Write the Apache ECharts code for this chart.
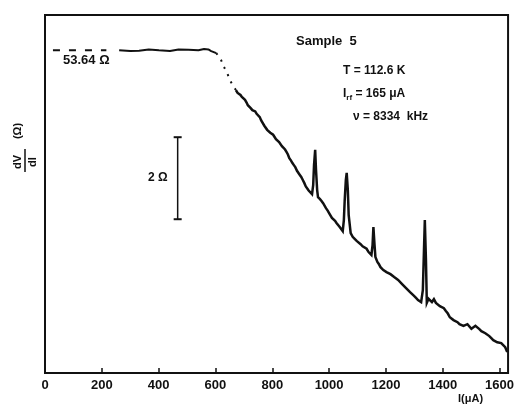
<!DOCTYPE html>
<html>
<head>
<meta charset="utf-8">
<script src="https://cdn.jsdelivr.net/npm/echarts@6/dist/echarts.min.js"></script>
<style>html,body{margin:0;padding:0;background:#fff}#c{width:517px;height:405px}</style>
</head>
<body>
<div id="c"></div>
<script>
// x tick labels (µA)
const xTicks = [0, 200, 400, 600, 800, 1000, 1200, 1400, 1600];
// dashed extrapolated plateau (53.64 Ω)
const plateauI = [28, 216];
const plateauV = [53.64, 53.64];
// measured plateau (solid)
const flatI = [261,300,331,365,401,440,470,505,540,560,575,585,603];
const flatV = [53.64,53.62,53.63,53.66,53.64,53.62,53.66,53.65,53.64,53.67,53.66,53.62,53.57];
// dotted start of the descent
const dotI = [603, 610, 620, 630, 641, 651, 662, 672];
const dotV = [53.57, 53.55, 53.40, 53.23, 53.09, 52.91, 52.77, 52.67];
// measured dV/dI trace
const currentI = [672,678,683,688,693,699,704,710,714,719,724,730,735,740,745,751,756,761,766,772,777,782,787,793,798,803,808,813,818,824,829,834,839,845,850,855,860,866,871,876,881,887,892,897,902,908,913,918,923,928,933,940,944,947,951,954,958,961,968,974,979,985,989,995,1000,1005,1010,1016,1021,1026,1031,1036,1041,1048,1052,1055,1059,1062,1066,1069,1076,1083,1090,1097,1104,1111,1118,1125,1132,1139,1144,1149,1153,1156,1160,1163,1170,1175,1181,1186,1191,1197,1202,1209,1216,1222,1229,1236,1243,1250,1257,1264,1271,1278,1285,1292,1299,1306,1313,1318,1324,1330,1334,1337,1339,1341,1344,1350,1355,1362,1369,1376,1383,1390,1397,1404,1411,1418,1425,1431,1438,1445,1452,1459,1466,1473,1480,1487,1494,1501,1508,1515,1522,1529,1536,1543,1550,1557,1564,1571,1578,1585,1592,1599,1606,1613,1620,1627];
const dVdI = [52.67,52.60,52.57,52.55,52.50,52.46,52.43,52.36,52.30,52.28,52.23,52.18,52.16,52.15,52.09,52.06,52.01,51.93,51.89,51.80,51.77,51.70,51.67,51.63,51.60,51.58,51.55,51.47,51.45,51.40,51.38,51.30,51.28,51.22,51.16,51.10,51.01,50.95,50.89,50.84,50.79,50.70,50.67,50.60,50.55,50.47,50.40,50.32,50.28,50.22,50.18,50.13,50.35,50.84,51.21,50.72,50.23,50.06,50.01,49.96,49.91,49.88,49.79,49.73,49.67,49.70,49.55,49.52,49.48,49.43,49.40,49.34,49.30,49.23,49.50,49.99,50.48,50.65,50.23,49.62,49.18,49.09,49.04,48.99,48.97,48.91,48.86,48.82,48.80,48.72,48.70,48.65,48.89,49.33,48.89,48.60,48.48,48.43,48.35,48.33,48.28,48.27,48.23,48.26,48.18,48.16,48.11,48.12,48.04,48.00,47.94,47.93,47.84,47.80,47.74,47.72,47.65,47.60,47.55,47.52,47.50,47.79,48.77,49.50,49.00,48.52,47.48,47.58,47.55,47.50,47.57,47.48,47.52,47.40,47.43,47.35,47.28,47.22,47.13,47.10,47.06,47.07,47.01,46.96,46.94,46.92,46.89,46.96,46.94,46.85,46.87,46.92,46.89,46.84,46.79,46.77,46.74,46.70,46.67,46.62,46.57,46.58,46.52,46.55,46.50,46.47,46.40,46.28];
// 2 Ω scale bar
const barI = [467, 467];
const barV = [51.52, 49.52];

const zip = (a, b) => a.map((v, i) => [v, b[i]]);
const F = 'Liberation Sans, Arial, sans-serif';
const ink = '#111';

const chart = echarts.init(document.getElementById('c'));
chart.setOption({
  animation: false,
  backgroundColor: '#fff',
  grid: { left: 45, right: 4, top: 15, bottom: 32, show: true, borderColor: ink, borderWidth: 2 },
  xAxis: {
    type: 'value', min: 0, max: 1630, interval: 200,
    axisLine: { show: true, lineStyle: { color: ink, width: 2 } },
    axisTick: { show: true, inside: true, length: 5, lineStyle: { color: ink, width: 1.5 } },
    axisLabel: { color: ink, fontFamily: F, fontWeight: 'bold', fontSize: 13, margin: 6, showMaxLabel: false,
      formatter: v => xTicks.includes(v) ? String(v) : '' },
    splitLine: { show: false }
  },
  yAxis: {
    type: 'value', min: 45.77, max: 54.5,
    axisLine: { show: true, lineStyle: { color: ink, width: 2 } },
    axisTick: { show: false }, axisLabel: { show: false }, splitLine: { show: false }
  },
  series: [
    { type: 'line', data: zip(plateauI, plateauV), symbol: 'none',
      lineStyle: { color: ink, width: 1.8, type: [7, 9] } },
    { type: 'line', data: zip(flatI, flatV), symbol: 'none',
      lineStyle: { color: ink, width: 2 } },
    { type: 'line', data: zip(dotI, dotV), symbol: 'none',
      lineStyle: { color: ink, width: 2, type: [2, 6] } },
    { type: 'line', data: zip(currentI, dVdI), symbol: 'none',
      lineStyle: { color: ink, width: 2.5, join: 'miter' } },
    { type: 'line', data: zip(barI, barV), symbol: 'rect', symbolSize: [8, 2],
      itemStyle: { color: ink }, lineStyle: { color: ink, width: 1.5 } }
  ],
  graphic: [
    { type: 'text', left: 63, top: 54, style: { text: '53.64 Ω', font: 'bold 13px ' + F, fill: ink } },
    { type: 'text', left: 296, top: 35, style: { text: 'Sample  5', font: 'bold 13px ' + F, fill: ink } },
    { type: 'text', left: 343, top: 65, style: { text: 'T = 112.6 K', font: 'bold 12px ' + F, fill: ink } },
    { type: 'text', left: 343, top: 88, style: {
        text: '{a|I}{s|rf}{a| = 165 μA}', font: 'bold 12px ' + F, fill: ink,
        rich: { a: { font: 'bold 12px ' + F, fill: ink }, s: { font: 'bold 8px ' + F, fill: ink, padding: [7, 0, 0, 0] } } } },
    { type: 'text', left: 353, top: 111, style: { text: 'ν = 8334  kHz', font: 'bold 12px ' + F, fill: ink } },
    { type: 'text', left: 148, top: 172, style: { text: '2 Ω', font: 'bold 12px ' + F, fill: ink } },
    { type: 'text', left: 458, top: 393, style: { text: 'I(μA)', font: 'bold 11px ' + F, fill: ink } },
    { type: 'group', x: 25, y: 160, rotation: Math.PI / 2, children: [
      { type: 'text', x: -2, y: -7, style: { text: 'dV', font: 'bold 11px ' + F, fill: ink, align: 'center', verticalAlign: 'middle', textAlign: 'center', textVerticalAlign: 'middle' } },
      { type: 'text', x: 29, y: -7, style: { text: '(Ω)', font: 'bold 11px ' + F, fill: ink, align: 'center', verticalAlign: 'middle', textAlign: 'center', textVerticalAlign: 'middle' } },
      { type: 'line', shape: { x1: -12, y1: 0, x2: 11, y2: 0 }, style: { stroke: ink, lineWidth: 1.5 } },
      { type: 'text', x: -2, y: 8, style: { text: 'dI', font: 'bold 11px ' + F, fill: ink, align: 'center', verticalAlign: 'middle', textAlign: 'center', textVerticalAlign: 'middle' } }
    ] }
  ]
});
</script>
</body>
</html>
